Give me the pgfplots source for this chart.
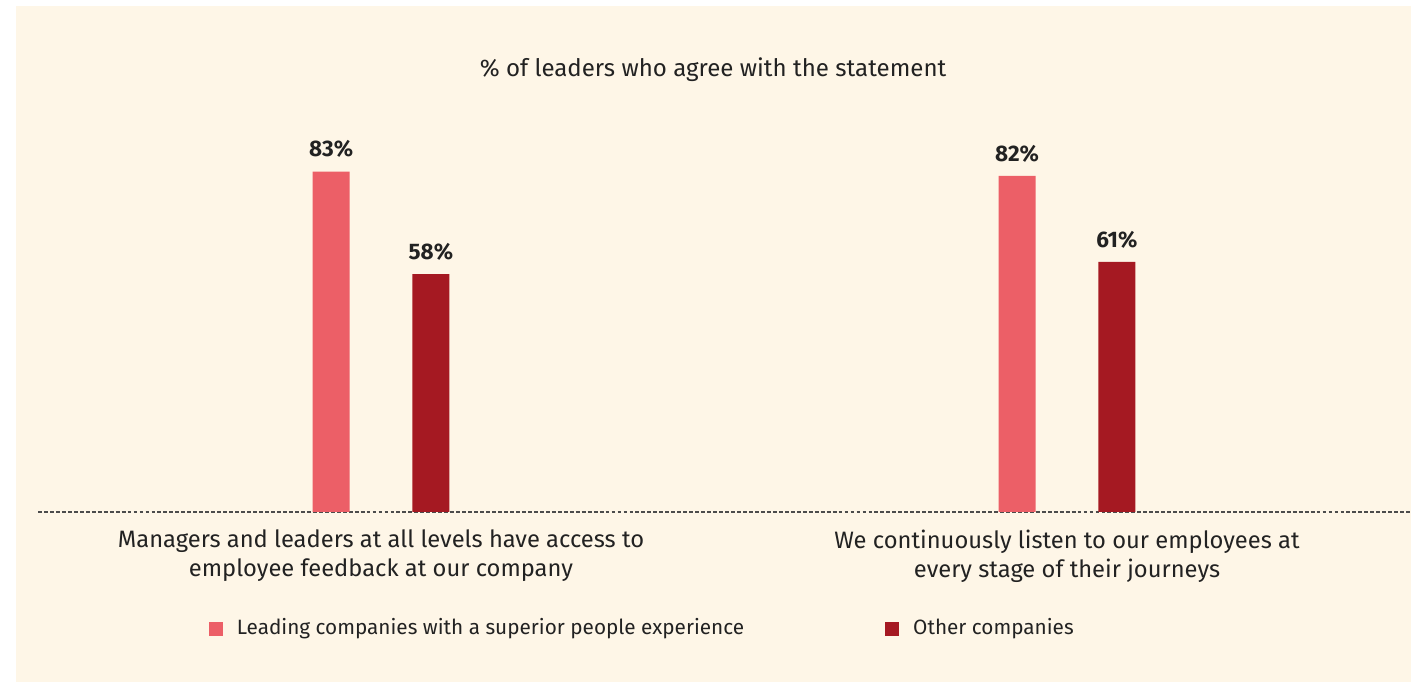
\documentclass[border=0pt]{standalone}
\usepackage{fontspec}
\setmainfont{Fira Sans}
\usepackage{pgfplots}
\pgfplotsset{compat=1.18}
\definecolor{cream}{HTML}{FEF6E7}
\definecolor{leadpink}{HTML}{EC5F67}
\definecolor{otherred}{HTML}{A51922}
\definecolor{txt}{HTML}{222222}

\begin{document}
\begin{tikzpicture}
  % page and panel (1 px of the reference = 0.01 cm)
  \fill[white] (-0.38,-1.70) rectangle (13.79,5.12);
  \fill[cream] (-0.22,-1.70) rectangle (13.73,5.06);
  \begin{axis}[
    scale only axis,
    width=13.72cm, height=4.10cm,
    xmin=-0.5, xmax=1.5, ymin=0, ymax=100,
    axis lines=none,
    clip=false,
    bar width=0.054,
    legend columns=2,
    legend style={at={(0.124,-0.285)}, anchor=west, draw=none, fill=none,
      inner sep=0pt, font=\fontsize{5.9}{7.1}\selectfont, text=txt,
      /tikz/every even column/.append style={column sep=1.34cm}},
    legend image code/.code={\fill[#1] (0cm,-0.07cm) rectangle (0.14cm,0.07cm);
      \path (0.21cm,0cm);},
    nodes near coords={\pgfmathprintnumber[assume math mode=true]{\pgfplotspointmeta}\%},
    every node near coord/.append style={font=\bfseries\fontsize{6.4}{7.6}\selectfont,
      text=txt, yshift=0.4pt},
  ]
    \draw[gray!60!black, line width=0.3pt, dash pattern=on 1.1pt off 0.6pt]
      (axis cs:-0.5,0) -- (axis cs:1.5,0);
    \addplot[ybar, bar shift=0pt, fill=leadpink, draw=none]
      coordinates {(-0.0727,83) (0.9273,82)};
    \addlegendentry{Leading companies with a superior people experience}
    \addplot[ybar, bar shift=0pt, fill=otherred, draw=none]
      coordinates {(0.0727,58) (1.0727,61)};
    \addlegendentry{Other companies}
    \node[anchor=center, text=txt, font=\fontsize{6.85}{8.2}\selectfont]
      at (axis description cs:0.492,1.078) {\% of leaders who agree with the statement};
    \node[anchor=north, align=center, text=txt, font=\fontsize{6.75}{8.25}\selectfont,
      yshift=-1.5pt] at (axis cs:0,0)
      {Managers and leaders at all levels have access to\\employee feedback at our company};
    \node[anchor=north, align=center, text=txt, font=\fontsize{6.75}{8.25}\selectfont,
      yshift=-1.5pt] at (axis cs:1,0)
      {We continuously listen to our employees at\\every stage of their journeys};
  \end{axis}
  \pgfresetboundingbox
  \path (-0.38,-1.70) rectangle (13.79,5.12);
\end{tikzpicture}
\end{document}
